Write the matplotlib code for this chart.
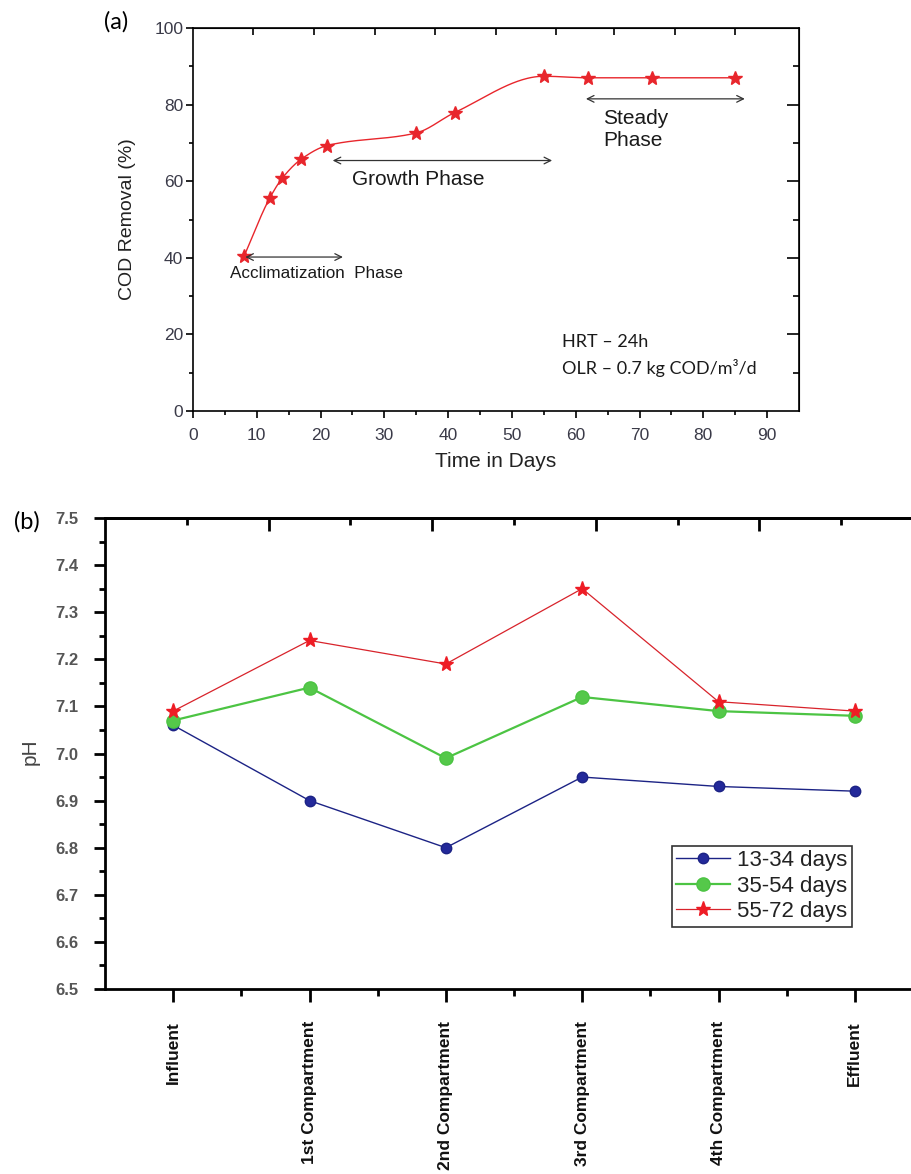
import numpy as np
import matplotlib
matplotlib.use("Agg")
import matplotlib.pyplot as plt

plt.rcParams['font.family'] = ['Liberation Sans', 'DejaVu Sans']

# ---------------- data ----------------
days = [8, 12, 14, 17, 21, 35, 41, 55, 62, 72, 85]
cod_removal = [40.4, 55.5, 60.8, 65.8, 69.3, 72.6, 77.9, 87.4, 87.0, 87.0, 87.0]

locations = ['Influent', '1st Compartment', '2nd Compartment',
             '3rd Compartment', '4th Compartment', 'Effluent']
ph_13_34 = [7.06, 6.90, 6.80, 6.95, 6.93, 6.92]
ph_35_54 = [7.07, 7.14, 6.99, 7.12, 7.09, 7.08]
ph_55_72 = [7.09, 7.24, 7.19, 7.35, 7.11, 7.09]
series_labels = ['13-34 days', '35-54 days', '55-72 days']


def pchip(x, y, xn):
    x = np.asarray(x, float)
    y = np.asarray(y, float)
    h = np.diff(x)
    d = np.diff(y) / h
    n = len(x)
    m = np.zeros(n)
    for k in range(1, n - 1):
        if d[k - 1] * d[k] > 0:
            w1 = 2 * h[k] + h[k - 1]
            w2 = h[k] + 2 * h[k - 1]
            m[k] = (w1 + w2) / (w1 / d[k - 1] + w2 / d[k])
    m[0] = d[0]
    m[-1] = d[-1]
    idx = np.clip(np.searchsorted(x, xn) - 1, 0, n - 2)
    t = (xn - x[idx]) / h[idx]
    h00 = 2 * t**3 - 3 * t**2 + 1
    h10 = t**3 - 2 * t**2 + t
    h01 = -2 * t**3 + 3 * t**2
    h11 = t**3 - t**2
    return (h00 * y[idx] + h10 * h[idx] * m[idx] +
            h01 * y[idx + 1] + h11 * h[idx] * m[idx + 1])


W, H = 911, 1174
fig = plt.figure(figsize=(W / 100, H / 100), dpi=100)

# ---------------- panel (a) ----------------
axa = fig.add_axes([193 / W, 1 - 411 / H, 606 / W, 383 / H])
xs = np.linspace(days[0], days[-1], 400)
axa.plot(xs, pchip(days, cod_removal, xs), color='#e8262c', lw=1.0)
axa.plot(days, cod_removal, ls='none', marker='*', ms=10, color='#e8262c',
         mec='#e8262c')
axa.set_xlim(0, 95)
axa.set_ylim(0, 100)
axa.set_xticks(np.arange(0, 91, 10))
axa.set_xticks(np.arange(5, 95, 10), minor=True)
axa.set_yticks(np.arange(0, 101, 20))
axa.set_yticks(np.arange(10, 100, 20), minor=True)
for s in axa.spines.values():
    s.set_linewidth(1.2)
axa.tick_params(which='major', direction='out', length=5, width=1.2,
                labelsize=12.5, labelcolor='#3a3a48', pad=2)
axa.tick_params(which='minor', direction='out', length=3, width=1.2)
axa.tick_params(axis='x', which='major', pad=7)
axa.set_xlabel('Time in Days', fontsize=15, color='#222222', labelpad=7)
axa.set_ylabel('COD Removal (%)', fontsize=14, color='#222222', labelpad=13)

sec_top = axa.secondary_xaxis('top')
sec_top.set_xticks([9.4, 19.0, 28.5, 37.9, 47.5, 56.9, 66.0, 75.6, 85.0])
sec_top.set_xticklabels([])
sec_top.tick_params(direction='in', length=5, width=1.2)
sec_right = axa.secondary_yaxis('right')
sec_right.set_yticks([20, 40, 60, 80])
sec_right.set_yticks([10, 30, 50, 70, 90], minor=True)
sec_right.set_yticklabels([])
sec_right.tick_params(which='major', direction='in', length=9, width=1.2)
sec_right.tick_params(which='minor', direction='in', length=4, width=1.2)

arrow_kw = dict(arrowstyle='<->', color='#333333', lw=0.9,
                shrinkA=0, shrinkB=0, mutation_scale=12)
axa.annotate('', xy=(23.5, 40.2), xytext=(8.2, 40.2), arrowprops=arrow_kw)
axa.annotate('', xy=(56.3, 65.4), xytext=(21.9, 65.4), arrowprops=arrow_kw)
axa.annotate('', xy=(86.5, 81.5), xytext=(61.6, 81.5), arrowprops=arrow_kw)
axa.text(19.3, 36.0, 'Acclimatization  Phase', fontsize=12.3, ha='center',
         va='center', color='#1a1a1a')
axa.text(35.3, 60.4, 'Growth Phase', fontsize=15, ha='center', va='center',
         color='#1a1a1a')
axa.text(64.3, 73.4, 'Steady\nPhase', fontsize=15, ha='left', va='center',
         color='#1a1a1a', linespacing=1.2)
axa.text(57.9, 18.0, 'HRT – 24h', fontsize=13, ha='left', va='center',
         family=['Lato', 'DejaVu Sans'], color='#1a1a1a')
axa.text(57.9, 11.2, 'OLR – 0.7 kg COD/m³/d', fontsize=13, ha='left',
         va='center', family=['Lato', 'DejaVu Sans'], color='#1a1a1a')
fig.text(116 / W, 1 - 22 / H, '(a)', fontsize=17, ha='center', va='center',
         family=['Lato', 'DejaVu Sans'])

# ---------------- panel (b) ----------------
axb = fig.add_axes([105 / W, 1 - 989 / H, 818 / W, 471 / H])
xpos = np.arange(len(locations))
axb.plot(xpos, ph_13_34, color='#1c2385', lw=1.0, marker='o', ms=7.5,
         mfc='#23299a', mec='#1c2385', label=series_labels[0])
axb.plot(xpos, ph_35_54, color='#4cc443', lw=1.6, marker='o', ms=9.5,
         mfc='#55c84a', mec='#4cc443', label=series_labels[1])
axb.plot(xpos, ph_55_72, color='#d8232b', lw=0.9, marker='*', ms=11,
         mfc='#ee1c25', mec='#ee1c25', label=series_labels[2])
axb.set_xlim(-0.5, 5.5)
axb.set_ylim(6.5, 7.5)
axb.set_xticks(xpos)
axb.set_xticklabels(locations, rotation=90, fontsize=12.5, fontweight='bold',
                    va='top', ha='center', color='#111111')
axb.set_xticks(xpos[:-1] + 0.5, minor=True)
axb.set_yticks(np.round(np.arange(6.5, 7.51, 0.1), 2))
axb.set_yticks(np.round(np.arange(6.55, 7.5, 0.1), 2), minor=True)
axb.yaxis.set_major_formatter(matplotlib.ticker.FormatStrFormatter('%.1f'))
for lab in axb.get_yticklabels():
    lab.set_fontweight('bold')
for s in axb.spines.values():
    s.set_linewidth(2.0)
axb.spines['right'].set_visible(False)
axb.tick_params(axis='y', which='major', direction='out', length=8, width=2,
                labelsize=12, labelcolor='#555555', pad=11)
axb.tick_params(axis='y', which='minor', direction='out', length=4, width=2)
axb.tick_params(axis='x', which='major', direction='out', length=9, width=2,
                pad=14)
axb.tick_params(axis='x', which='minor', direction='out', length=5, width=2)
axb.set_ylabel('pH', fontsize=15, color='#444444')
axb.yaxis.set_label_coords(-0.0795, 0.503)

sec_top_b = axb.secondary_xaxis('top')
sec_top_b.set_xticks([0.7, 1.9, 3.1, 4.3])
sec_top_b.set_xticks([0.1, 1.3, 2.5, 3.7, 4.9], minor=True)
sec_top_b.set_xticklabels([])
sec_top_b.tick_params(which='major', direction='in', length=9, width=2)
sec_top_b.tick_params(which='minor', direction='in', length=5, width=2)
sec_top_b.spines['top'].set_linewidth(2.0)

leg = axb.legend(loc='upper left', bbox_to_anchor=(0.693, 0.304),
                 borderaxespad=0, fontsize=16, frameon=True, fancybox=False,
                 edgecolor='black', handlelength=2.4, handletextpad=0.35,
                 labelspacing=0.2, borderpad=0.2)
leg.get_frame().set_linewidth(1.2)
for t in leg.get_texts():
    t.set_color('#222222')
fig.text(27 / W, 1 - 522 / H, '(b)', fontsize=17, ha='center', va='center',
         family=['Lato', 'DejaVu Sans'])

fig.savefig('out.png', dpi=100)
